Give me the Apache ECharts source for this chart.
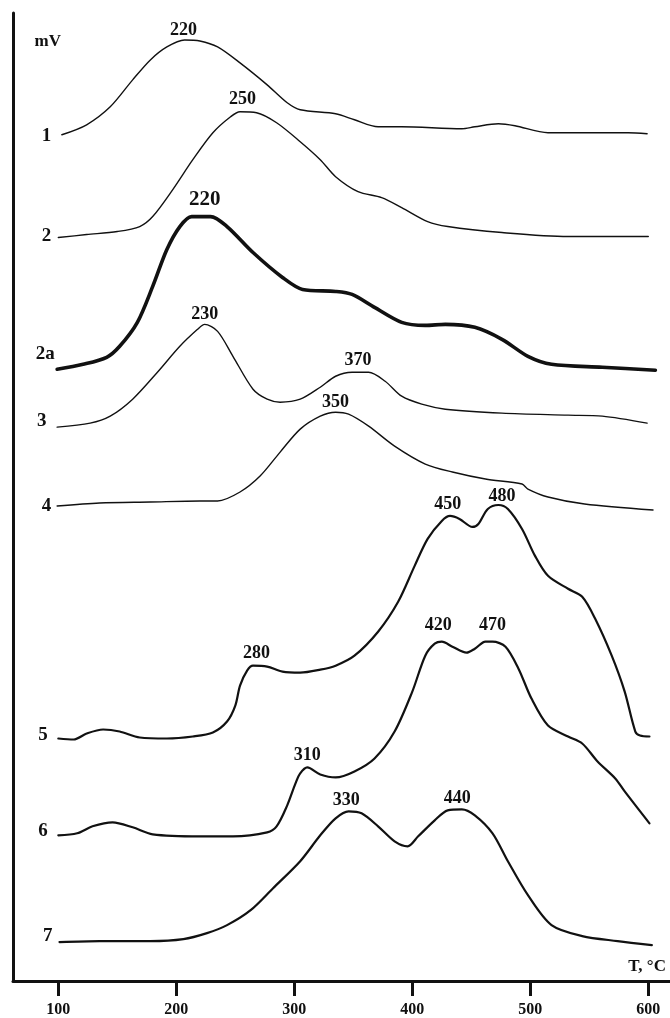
<!DOCTYPE html>
<html><head><meta charset="utf-8">
<script src="https://cdn.jsdelivr.net/npm/echarts@6/dist/echarts.min.js"></script>
<style>html,body{margin:0;padding:0;background:#fff}#c{width:670px;height:1018px}</style>
</head><body><div id="c"></div>
<script>
// Temperature (°C) and vertically offset signal (arbitrary units) for each curve
const temps1 = [103,124,144,163,178,192,207,220,235,254,277,294,305,335,351,371,391,442,453,473,487,515,546,583,599];
const curve1 = [848,858,876,903,923,936,943,942,936,920,898,880,873,869,863,856,856,854,856,859,857,850,850,850,849];

const temps2 = [100,124,150,169,180,197,214,231,246,254,268,285,305,322,335,354,374,391,413,430,476,532,600];
const curve2 = [745,748,751,756,766,793,823,850,866,871,870,860,841,823,806,791,785,775,761,756,750,746,746];

const temps2a = [99,121,141,152,167,180,192,203,213,229,243,265,290,307,335,349,368,391,411,428,453,476,498,518,561,606];
const curve2a = [613,618,625,636,660,696,733,756,766,766,756,730,705,693,691,688,675,660,657,658,655,643,626,618,615,612];

const temps3 = [99,127,144,163,184,203,218,224,235,248,265,277,288,305,322,335,349,363,377,391,408,428,476,532,561,599];
const curve3 = [555,559,566,583,610,636,653,658,651,626,593,583,580,583,595,606,610,610,601,586,578,573,569,567,566,559];

const temps4 = [99,135,178,220,235,254,271,288,305,322,335,346,363,385,411,434,462,493,498,515,546,604];
const curve4 = [476,479,480,481,481,490,506,530,553,566,570,568,556,536,518,510,503,498,493,485,478,472];

const temps5 = [100,113,124,138,152,169,192,214,231,243,250,254,260,265,277,290,305,322,335,351,371,388,402,413,425,432,440,451,456,464,473,481,493,504,515,532,544,555,569,580,589,593,601];
const curve5 = [243,242,248,252,250,244,243,245,249,260,276,296,311,316,315,310,309,312,316,326,350,380,416,443,461,466,463,455,458,473,477,473,453,426,406,393,385,363,326,290,250,246,245];

const temps6 = [100,116,129,146,163,180,220,248,277,285,294,301,305,311,322,335,351,368,385,400,411,419,425,434,446,453,462,468,479,490,501,515,532,544,557,572,580,601];
const curve6 = [146,148,155,159,154,147,145,145,149,155,176,198,208,214,207,204,210,223,250,290,326,338,340,335,329,333,340,340,335,313,283,256,245,238,220,203,190,158];

const temps7 = [101,135,178,206,226,243,263,282,305,322,335,346,357,371,385,396,405,419,430,442,453,468,481,498,518,544,574,603];
const curve7 = [39,40,40,42,48,56,71,93,120,146,163,170,168,155,140,135,145,161,171,172,166,148,120,86,56,45,40,36];

// Peak temperature annotations (text, temperature, signal level)
const peakText = ['220','250','220','230','370','350','450','480','280','420','470','310','330','440'];
const peakT    = [206,256,224,224,354,335,430,476,268,422,468,311,344,438];
const peakY    = [953,883,783,668,622,580,478,486,328,356,356,226,181,183];

// Curve names on the left
const nameText = ['mV','1','2','2a','3','4','5','6','7'];
const nameT    = [91,90,90,89,86,90,87,87,91];
const nameY    = [941,847,746,628,561,476,246,150,45];

// X tick labels
const xTicks = [100,200,300,400,500,600];
const xTitle = 'T, °C';

const INK = '#111111';
const SERIF = '"Liberation Serif","Times New Roman",serif';
const pairs = (t, v) => t.map((x, i) => [x, v[i]]);

function curve(t, v, w) {
  return { type: 'line', data: pairs(t, v), smooth: 0.3, symbol: 'none',
    lineStyle: { color: INK, width: w, cap: 'round', join: 'round' }, silent: true, z: 3 };
}
function labels(texts, ts, ys, size) {
  return { type: 'scatter', symbolSize: 1, itemStyle: { color: 'rgba(0,0,0,0)' }, silent: true, z: 5,
    data: texts.map((s, i) => ({ value: [ts[i], ys[i]], name: s })),
    label: { show: true, position: 'inside', formatter: p => p.name, color: INK,
      textBorderWidth: 0, textBorderColor: 'transparent', opacity: 1,
      fontFamily: SERIF, fontWeight: 'bold', fontSize: size } };
}

const chart = echarts.init(document.getElementById('c'), null, { renderer: 'canvas' });
chart.setOption({
  backgroundColor: '#fff',
  animation: false,
  grid: { left: 13, right: 0, top: 13, bottom: 35 },
  xAxis: {
    type: 'value', min: 61.6, max: 618.4,
    axisLine: { show: true, onZero: false, lineStyle: { color: INK, width: 3 } },
    axisTick: { show: true, customValues: xTicks, length: 15, lineStyle: { color: INK, width: 3 } },
    axisLabel: { show: true, customValues: xTicks, margin: 21, color: INK, fontFamily: SERIF, fontWeight: 'bold', fontSize: 16 },
    splitLine: { show: false }
  },
  yAxis: {
    type: 'value', min: 0, max: 970,
    axisLine: { show: true, onZero: false, lineStyle: { color: INK, width: 3 } },
    axisTick: { show: false }, axisLabel: { show: false }, splitLine: { show: false }
  },
  series: [
    curve(temps1, curve1, 1.4),
    curve(temps2, curve2, 1.4),
    curve(temps2a, curve2a, 3.6),
    curve(temps3, curve3, 1.4),
    curve(temps4, curve4, 1.4),
    curve(temps5, curve5, 2.2),
    curve(temps6, curve6, 2.2),
    curve(temps7, curve7, 2.2),
    labels(peakText.filter((s,i)=>i!==2), peakT.filter((s,i)=>i!==2), peakY.filter((s,i)=>i!==2), 18),
    labels([peakText[2]], [peakT[2]], [peakY[2]], 21),
    labels(nameText.slice(1), nameT.slice(1), nameY.slice(1), 19),
    labels([nameText[0]], [nameT[0]], [nameY[0]], 17),
    labels([xTitle], [599], [14], 17)
  ]
});
</script></body></html>
